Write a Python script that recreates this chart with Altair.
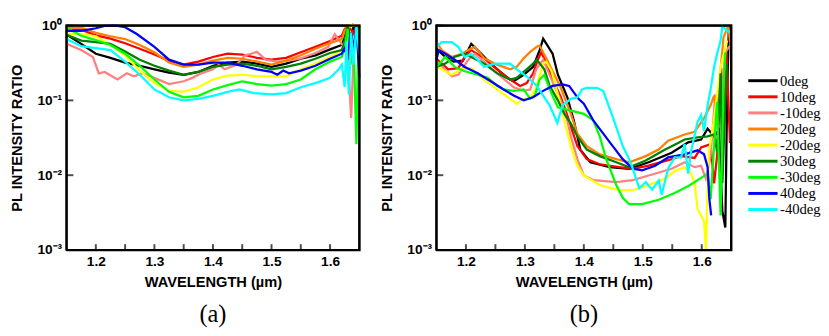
import altair as alt
import pandas as pd

SERIES = ["0deg", "10deg", "-10deg", "20deg", "-20deg", "30deg", "-30deg", "40deg", "-40deg"]
COLORS = ["#000000", "#ff0000", "#ff8080", "#ff8000", "#ffff00", "#008000", "#00ff00", "#0000ff", "#00ffff"]

X_LABELS = [1.2, 1.3, 1.4, 1.5, 1.6]
X_TICKS = [1.2, 1.25, 1.3, 1.35, 1.4, 1.45, 1.5, 1.55, 1.6]
Y_LABELS = [0.001, 0.01, 0.1, 1.0]
FRAME_X = [1.15, 1.65, 1.65, 1.15, 1.15]
FRAME_Y = [0.001, 0.001, 1.0, 1.0, 0.001]

A_GRID = [1.15, 1.175, 1.2, 1.225, 1.25, 1.275, 1.3, 1.325, 1.35, 1.375, 1.4, 1.425,
          1.45, 1.475, 1.5, 1.525, 1.55, 1.575, 1.6, 1.62]

A_0DEG_X = A_GRID + [1.625, 1.63, 1.635, 1.64, 1.645, 1.65]
A_0DEG_Y = [0.76, 0.57, 0.42, 0.37, 0.32, 0.29, 0.26, 0.235, 0.22, 0.24, 0.29, 0.32,
            0.33, 0.31, 0.28, 0.31, 0.36, 0.40, 0.48, 0.55, 0.7, 1.3, 0.5, 1.5, 0.9, 1.5]
A_10DEG_X = A_GRID + [1.625, 1.63, 1.64, 1.645, 1.65]
A_10DEG_Y = [0.88, 0.88, 0.74, 0.67, 0.58, 0.49, 0.41, 0.34, 0.30, 0.33, 0.38, 0.42,
             0.41, 0.37, 0.35, 0.37, 0.44, 0.52, 0.62, 0.73, 0.9, 1.3, 0.8, 1.5, 1.5]
A_M10DEG_X = [1.15, 1.175, 1.195, 1.205, 1.215, 1.237, 1.253, 1.265, 1.28, 1.3, 1.325, 1.35,
              1.365, 1.38, 1.4, 1.41, 1.42, 1.44, 1.455, 1.465, 1.475, 1.49, 1.51, 1.53,
              1.55, 1.575, 1.597, 1.608, 1.62, 1.63, 1.636, 1.64, 1.645]
A_M10DEG_Y = [0.57, 0.47, 0.38, 0.23, 0.24, 0.19, 0.23, 0.21, 0.23, 0.20, 0.165, 0.18,
              0.20, 0.23, 0.26, 0.30, 0.26, 0.30, 0.40, 0.42, 0.445, 0.35, 0.33, 0.34,
              0.365, 0.43, 0.52, 0.77, 0.57, 0.45, 0.058, 0.4, 0.8]
A_20DEG_X = A_GRID + [1.625, 1.63, 1.65]
A_20DEG_Y = [0.95, 0.94, 0.80, 0.72, 0.66, 0.55, 0.44, 0.32, 0.28, 0.30, 0.34, 0.37,
             0.36, 0.33, 0.30, 0.34, 0.40, 0.49, 0.58, 0.66, 0.85, 1.5, 1.5]
A_M20DEG_X = A_GRID + [1.625, 1.63, 1.635, 1.65]
A_M20DEG_Y = [0.78, 0.77, 0.72, 0.55, 0.40, 0.25, 0.17, 0.135, 0.13, 0.15, 0.19, 0.215,
              0.22, 0.21, 0.21, 0.21, 0.26, 0.31, 0.38, 0.47, 0.6, 0.9, 1.5, 1.5]
A_30DEG_X = A_GRID + [1.625, 1.63, 1.64, 1.65]
A_30DEG_Y = [0.75, 0.63, 0.60, 0.57, 0.45, 0.35, 0.29, 0.25, 0.22, 0.24, 0.28, 0.30,
             0.31, 0.29, 0.26, 0.28, 0.31, 0.36, 0.43, 0.47, 0.6, 1.2, 0.5, 1.5]
A_M30DEG_X = A_GRID + [1.625, 1.63, 1.635, 1.64, 1.645, 1.648, 1.65]
A_M30DEG_Y = [0.94, 0.73, 0.64, 0.55, 0.42, 0.29, 0.19, 0.13, 0.11, 0.115, 0.14, 0.16,
              0.18, 0.165, 0.157, 0.165, 0.19, 0.26, 0.33, 0.38, 0.5, 0.9, 0.3, 0.6,
              0.026, 0.5, 1.5]
A_40DEG_X = [1.15, 1.175, 1.2, 1.215, 1.235, 1.25, 1.27, 1.3, 1.325, 1.35, 1.375, 1.4,
             1.425, 1.45, 1.475, 1.5, 1.51, 1.52, 1.53, 1.55, 1.575, 1.6, 1.62, 1.625,
             1.63, 1.635, 1.64, 1.645, 1.65]
A_40DEG_Y = [0.85, 0.85, 0.92, 0.99, 1.0, 0.95, 0.77, 0.52, 0.35, 0.30, 0.30, 0.32,
             0.32, 0.29, 0.26, 0.24, 0.22, 0.25, 0.23, 0.25, 0.29, 0.36, 0.42, 0.5,
             0.35, 0.8, 0.5, 1.5, 0.2]
A_M40DEG_X = [1.15, 1.175, 1.2, 1.225, 1.25, 1.275, 1.3, 1.325, 1.35, 1.375, 1.4, 1.425,
              1.445, 1.47, 1.5, 1.525, 1.55, 1.575, 1.6, 1.615, 1.62, 1.625, 1.628,
              1.632, 1.636, 1.64, 1.645, 1.65]
A_M40DEG_Y = [0.66, 0.53, 0.50, 0.47, 0.33, 0.22, 0.14, 0.11, 0.10, 0.105, 0.115, 0.13,
              0.14, 0.125, 0.12, 0.125, 0.15, 0.17, 0.20, 0.26, 0.3, 0.15, 0.6,
              0.12, 0.8, 0.3, 1.5, 0.4]

B_0DEG_X = [1.15, 1.162, 1.179, 1.195, 1.209, 1.226, 1.242, 1.27, 1.281, 1.298, 1.314, 1.325,
            1.331, 1.347, 1.356, 1.372, 1.383, 1.394, 1.411, 1.444, 1.477, 1.51, 1.549,
            1.577, 1.599, 1.61, 1.621, 1.629, 1.635, 1.64, 1.643, 1.646]
B_0DEG_Y = [0.49, 0.40, 0.33, 0.34, 0.57, 0.42, 0.31, 0.20, 0.18, 0.22, 0.28, 0.47,
            0.67, 0.42, 0.22, 0.11, 0.054, 0.022, 0.0149, 0.0128, 0.0122, 0.0149, 0.020,
            0.0275, 0.030, 0.042, 0.033, 0.040, 0.0033, 0.002, 0.099, 1.5]
B_10DEG_X = [1.15, 1.17, 1.187, 1.198, 1.209, 1.231, 1.253, 1.275, 1.292, 1.303, 1.314, 1.322,
             1.328, 1.339, 1.35, 1.361, 1.372, 1.38, 1.389, 1.405, 1.427, 1.46, 1.483, 1.51,
             1.549, 1.565, 1.588, 1.599, 1.615, 1.621, 1.626, 1.633, 1.637, 1.642, 1.648]
B_10DEG_Y = [0.36, 0.26, 0.27, 0.38, 0.47, 0.365, 0.26, 0.19, 0.156, 0.17, 0.23, 0.35,
             0.44, 0.28, 0.17, 0.11, 0.063, 0.04, 0.0245, 0.0164, 0.014, 0.0128, 0.0122, 0.0134,
             0.0164, 0.018, 0.017, 0.0235, 0.026, 0.0078, 0.018, 0.27, 0.027, 0.44, 0.027]
B_M10DEG_X = [1.15, 1.155, 1.176, 1.187, 1.204, 1.215, 1.253, 1.281, 1.298, 1.309, 1.319, 1.331,
              1.344, 1.361, 1.372, 1.378, 1.389, 1.40, 1.416, 1.455, 1.483, 1.51, 1.549, 1.571,
              1.588, 1.599, 1.607, 1.615, 1.623, 1.632, 1.64, 1.648]
B_M10DEG_Y = [0.33, 0.31, 0.21, 0.22, 0.35, 0.42, 0.23, 0.15, 0.134, 0.14, 0.26, 0.35,
              0.2, 0.099, 0.054, 0.033, 0.0164, 0.0099, 0.0086, 0.0081, 0.0086, 0.0099, 0.0122, 0.0149,
              0.0128, 0.0134, 0.009, 0.018, 0.12, 0.06, 0.44, 0.54]
B_20DEG_X = [1.15, 1.159, 1.176, 1.193, 1.204, 1.215, 1.231, 1.253, 1.275, 1.286, 1.298, 1.309,
             1.32, 1.325, 1.339, 1.361, 1.378, 1.389, 1.405, 1.427, 1.455, 1.477, 1.505, 1.527,
             1.543, 1.571, 1.588, 1.604, 1.615, 1.621, 1.626, 1.632, 1.637, 1.645, 1.648]
B_20DEG_Y = [0.60, 0.47, 0.38, 0.42, 0.47, 0.52, 0.365, 0.30, 0.26, 0.28, 0.365, 0.445,
             0.52, 0.54, 0.33, 0.147, 0.066, 0.036, 0.0245, 0.019, 0.0164, 0.0149, 0.018, 0.022,
             0.029, 0.035, 0.038, 0.058, 0.086, 0.116, 0.06, 0.26, 0.70, 1.5, 0.6]
B_M20DEG_X = [1.15, 1.159, 1.176, 1.193, 1.209, 1.231, 1.253, 1.275, 1.286, 1.298,
              1.309, 1.32, 1.331, 1.336, 1.345, 1.356, 1.367, 1.378, 1.389, 1.40,
              1.427, 1.46, 1.483, 1.51, 1.538, 1.555, 1.571, 1.582, 1.588, 1.593,
              1.599, 1.604, 1.607, 1.612, 1.62, 1.632, 1.643]
B_M20DEG_Y = [0.28, 0.26, 0.22, 0.26, 0.27, 0.19, 0.14, 0.105, 0.09, 0.105,
              0.105, 0.156, 0.31, 0.33, 0.25, 0.12, 0.054, 0.0245, 0.0134, 0.0099,
              0.0074, 0.0063, 0.0063, 0.0074, 0.009, 0.0115, 0.0128, 0.0104, 0.0078, 0.0035,
              0.0029, 0.0024, 0.001, 0.02, 0.05, 0.28, 0.63]
B_30DEG_X = [1.15, 1.165, 1.18, 1.198, 1.209, 1.231, 1.253, 1.275, 1.286, 1.303,
             1.314, 1.32, 1.333, 1.342, 1.356, 1.367, 1.378, 1.389, 1.405, 1.427,
             1.455, 1.477, 1.505, 1.538, 1.56, 1.571, 1.593, 1.61, 1.621, 1.626,
             1.632, 1.635, 1.64, 1.643]
B_30DEG_Y = [0.28, 0.31, 0.38, 0.42, 0.38, 0.31, 0.23, 0.19, 0.20, 0.26,
             0.31, 0.35, 0.26, 0.156, 0.1, 0.066, 0.049, 0.033, 0.022, 0.018,
             0.0149, 0.0128, 0.0157, 0.022, 0.027, 0.03, 0.032, 0.033, 0.035, 0.021,
             0.23, 0.0078, 0.095, 0.3]
B_M30DEG_X = [1.15, 1.165, 1.181, 1.198, 1.22, 1.237, 1.253, 1.264, 1.281, 1.298,
              1.309, 1.317, 1.325, 1.333, 1.344, 1.356, 1.378, 1.40, 1.416, 1.427,
              1.438, 1.455, 1.466, 1.477, 1.499, 1.527, 1.554, 1.579, 1.599, 1.61,
              1.615, 1.626, 1.632, 1.637, 1.64]
B_M30DEG_Y = [0.28, 0.38, 0.28, 0.245, 0.22, 0.20, 0.156, 0.14, 0.134, 0.14,
              0.105, 0.116, 0.19, 0.22, 0.13, 0.081, 0.073, 0.066, 0.054, 0.033,
              0.0164, 0.0074, 0.005, 0.0041, 0.0041, 0.0047, 0.0058, 0.0073, 0.0092, 0.0105,
              0.0048, 0.095, 0.0029, 0.157, 0.44]
B_40DEG_X = [1.15, 1.154, 1.165, 1.181, 1.198, 1.22, 1.242, 1.264, 1.281, 1.298, 1.314,
             1.331, 1.347, 1.364, 1.375, 1.391, 1.40, 1.416, 1.433, 1.449, 1.466, 1.483,
             1.499, 1.521, 1.543, 1.571, 1.593, 1.604, 1.61, 1.613, 1.616]
B_40DEG_Y = [0.35, 0.47, 0.42, 0.35, 0.28, 0.23, 0.18, 0.14, 0.116, 0.10, 0.11,
             0.134, 0.156, 0.164, 0.156, 0.105, 0.09, 0.054, 0.036, 0.0245, 0.0164, 0.0122,
             0.0116, 0.0134, 0.0173, 0.019, 0.0215, 0.019, 0.0128, 0.0047, 0.0029]
B_M40DEG_X = [1.15, 1.159, 1.176, 1.187, 1.198, 1.209, 1.22, 1.231, 1.248, 1.275,
              1.286, 1.303, 1.32, 1.331, 1.342, 1.355, 1.364, 1.378, 1.389, 1.397,
              1.405, 1.422, 1.433, 1.449, 1.466, 1.477, 1.483, 1.494, 1.505, 1.516,
              1.527, 1.532, 1.543, 1.554, 1.565, 1.571, 1.577, 1.582, 1.593, 1.599,
              1.604, 1.61, 1.615, 1.621, 1.626, 1.632, 1.635, 1.643, 1.65]
B_M40DEG_Y = [0.52, 0.60, 0.60, 0.52, 0.38, 0.42, 0.35, 0.28, 0.31, 0.31,
              0.26, 0.21, 0.156, 0.116, 0.086, 0.05, 0.086, 0.105, 0.11, 0.14,
              0.147, 0.147, 0.133, 0.06, 0.0245, 0.0164, 0.0122, 0.0067, 0.0081, 0.0064,
              0.0085, 0.0055, 0.0122, 0.0173, 0.0173, 0.026, 0.0105, 0.021, 0.052, 0.064,
              0.039, 0.086, 0.14, 0.28, 0.42, 0.63, 1.0, 0.85, 0.81]

PANEL_A = [A_0DEG_X, A_0DEG_Y, A_10DEG_X, A_10DEG_Y, A_M10DEG_X, A_M10DEG_Y,
           A_20DEG_X, A_20DEG_Y, A_M20DEG_X, A_M20DEG_Y, A_30DEG_X, A_30DEG_Y,
           A_M30DEG_X, A_M30DEG_Y, A_40DEG_X, A_40DEG_Y, A_M40DEG_X, A_M40DEG_Y]
PANEL_B = [B_0DEG_X, B_0DEG_Y, B_10DEG_X, B_10DEG_Y, B_M10DEG_X, B_M10DEG_Y,
           B_20DEG_X, B_20DEG_Y, B_M20DEG_X, B_M20DEG_Y, B_30DEG_X, B_30DEG_Y,
           B_M30DEG_X, B_M30DEG_Y, B_40DEG_X, B_40DEG_Y, B_M40DEG_X, B_M40DEG_Y]


def build_rows(lists):
    rows = []
    for k, name in enumerate(SERIES):
        xs, ys = lists[2 * k], lists[2 * k + 1]
        for i, (x, y) in enumerate(zip(xs, ys)):
            rows.append({"series": name, "idx": i, "wl": x, "val": y})
    return pd.DataFrame(rows)


H = 230
FONT = "Liberation Sans"

color = alt.Color(
    "series:N",
    scale=alt.Scale(domain=SERIES, range=COLORS),
    legend=alt.Legend(
        title=None, orient="none", legendX=706, legendY=49,
        symbolType="M-3,0H3", symbolSize=100, symbolStrokeWidth=3,
        labelFont="Liberation Serif", labelFontSize=15, labelColor="black",
        labelOffset=10, rowPadding=0.5, padding=0, symbolOffset=0,
    ),
)


def panel(lists, width, caption):
    x_enc = alt.X(
        "wl:Q",
        scale=alt.Scale(domain=[1.15, 1.65], nice=False, zero=False, clamp=True),
        axis=alt.Axis(values=X_LABELS, format=".1f", title="WAVELENGTH (µm)",
                      ticks=False, domain=False, grid=False, zindex=1,
                      labelFont=FONT, labelFontWeight="bold", labelFontSize=14,
                      labelColor="black", labelPadding=5,
                      titleFont=FONT, titleFontWeight="bold", titleFontSize=15,
                      titleColor="black", titlePadding=6),
    )
    y_enc = alt.Y(
        "val:Q",
        scale=alt.Scale(type="log", domain=[0.001, 1], nice=False, clamp=True),
        axis=alt.Axis(values=Y_LABELS, title="PL INTENSITY RATIO",
                      labelExpr="datum.value > 0.5 ? '10⁰' : datum.value > 0.05 ? '10⁻¹' : datum.value > 0.005 ? '10⁻²' : '10⁻³'",
                      ticks=False, domain=False, grid=False,
                      labelFont=FONT, labelFontWeight="bold", labelFontSize=14,
                      labelColor="black", labelPadding=5,
                      titleFont=FONT, titleFontWeight="bold", titleFontSize=15,
                      titleColor="black", titlePadding=13),
    )
    data = build_rows(lists)
    lines = alt.Chart(data).mark_line(strokeWidth=2.3).encode(
        x=x_enc, y=y_enc, color=color, order="idx:Q")
    box = alt.Chart(pd.DataFrame({"wl": FRAME_X, "val": FRAME_Y, "k": list(range(5))})).mark_line(
        color="#000000", strokeWidth=2.3).encode(x=x_enc, y=y_enc, order="k:Q")
    xt = pd.DataFrame({"wl": X_TICKS})
    ymaj = pd.DataFrame({"val": Y_LABELS})
    t_bottom = alt.Chart(xt).mark_tick(size=6, thickness=2, color="#000000", orient="vertical").encode(
        x=x_enc, y=alt.value(H - 3))
    t_left = alt.Chart(ymaj).mark_tick(size=7, thickness=2, color="#000000", orient="horizontal").encode(
        y=y_enc, x=alt.value(3.5))
    return alt.layer(lines, box, t_bottom, t_left).properties(
        width=width, height=H,
        title=alt.TitleParams(caption, orient="bottom", font="Liberation Serif",
                              fontSize=25, fontWeight="normal", color="black", offset=14),
    )


chart = alt.hconcat(
    panel(PANEL_A, 300, "(a)"),
    panel(PANEL_B, 302, "(b)"),
    spacing=13,
).properties(
    padding={"left": 0, "top": 6, "right": 0, "bottom": 0},
    background="white",
).configure_view(
    stroke="#000000", strokeWidth=2
)

chart.save("out.html", embed_options={"renderer": "svg", "actions": False})
